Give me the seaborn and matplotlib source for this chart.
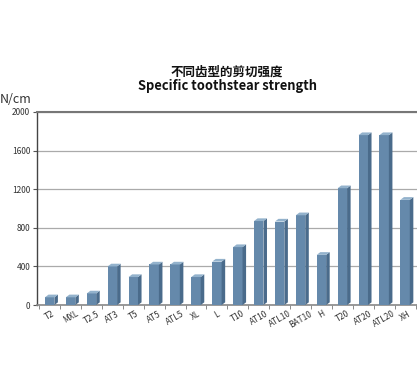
import matplotlib
matplotlib.use('Agg')
import matplotlib.pyplot as plt
from matplotlib.patches import Polygon
import seaborn as sns
import pandas as pd

# Tooth profiles and shear strength (N/cm)
profiles = ['T2', 'MXL', 'T2.5', 'AT3', 'T5', 'AT5', 'ATL5', 'XL', 'L', 'T10',
            'AT10', 'ATL10', 'BAT10', 'H', 'T20', 'AT20', 'ATL20', 'XH']
strength = [80, 80, 120, 400, 290, 420, 420, 290, 450, 600,
            870, 865, 930, 520, 1210, 1760, 1760, 1090]
yticks = [0, 400, 800, 1200, 1600, 2000]

df = pd.DataFrame({'profile': profiles, 'strength': strength})

sns.set_style('white')
plt.rcParams['font.family'] = ['Noto Sans CJK SC', 'DejaVu Sans']

fig = plt.figure(figsize=(4.17, 3.72), dpi=100)
ax = fig.add_axes([0.089, 0.18, 0.915, 0.519])

front = '#6589ab'
side = '#4a6b8b'
top = '#93b2cc'

sns.barplot(data=df, x='profile', y='strength', color=front, width=0.45,
            saturation=1, ax=ax, zorder=3)

# fake 3D: side and top faces from each bar
dx, dy = 0.17, 28
for p in ax.patches:
    x0, w, h = p.get_x(), p.get_width(), p.get_height()
    p.set_edgecolor('none')
    ax.add_patch(Polygon([(x0 + w, 0), (x0 + w + dx, dy), (x0 + w + dx, h + dy), (x0 + w, h)],
                         closed=True, facecolor=side, edgecolor='none', zorder=3))
    ax.add_patch(Polygon([(x0, h), (x0 + dx, h + dy), (x0 + w + dx, h + dy), (x0 + w, h)],
                         closed=True, facecolor=top, edgecolor='none', zorder=3))

ax.set_ylim(0, 2000)
ax.set_xlim(-0.6, len(profiles) - 0.35)
ax.set_yticks(yticks)
ax.set_yticklabels([str(v) for v in yticks], fontsize=6, color='#333333')
ax.set_xticks(range(len(profiles)))
ax.set_xticklabels(profiles, rotation=30, fontsize=6, color='#333333', ha='center')
ax.tick_params(axis='x', length=0, pad=3)
ax.tick_params(axis='y', length=3, width=0.8, color='#555555', pad=2, left=True)
ax.set_xticks([i + 0.5 for i in range(-1, len(profiles))], minor=True)
ax.tick_params(axis='x', which='minor', length=3, color='#777777', bottom=True)

ax.yaxis.grid(True, color='#aaaaaa', linewidth=0.9, zorder=0)
ax.set_axisbelow(True)
ax.set_xlabel('')
ax.set_ylabel('')

ax.spines['top'].set_visible(True)
ax.spines['top'].set_color('#777777')
ax.spines['top'].set_linewidth(1.5)
ax.spines['left'].set_color('#444444')
ax.spines['left'].set_linewidth(1)
ax.spines['bottom'].set_color('#888888')
ax.spines['bottom'].set_linewidth(1.2)
ax.spines['right'].set_visible(False)

fig.text(0.0, 0.733, 'N/cm', fontsize=9, color='#333333', va='center', ha='left')
fig.text(0.545, 0.805, '不同齿型的剪切强度', fontsize=9, fontweight='bold',
         ha='center', va='center', color='#111111')
fig.text(0.545, 0.768, 'Specific toothstear strength', fontsize=9.3, fontweight='bold',
         ha='center', va='center', color='#111111')

fig.savefig('out.png', dpi=100)
